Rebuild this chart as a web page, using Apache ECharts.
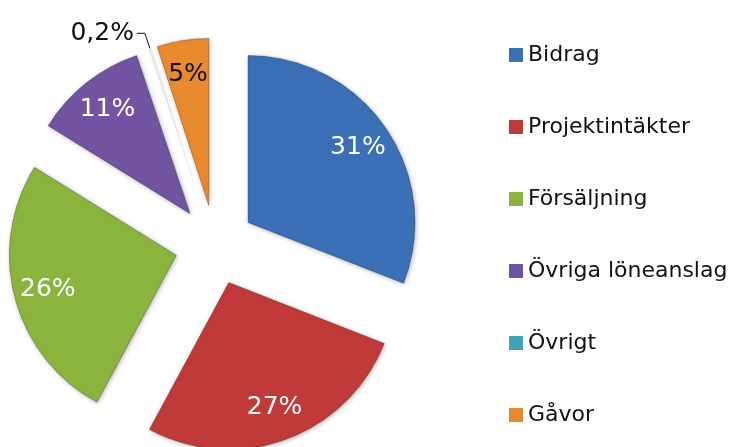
<!DOCTYPE html>
<html><head><meta charset="utf-8">
<script src="https://cdn.jsdelivr.net/npm/echarts@6/dist/echarts.min.js"></script>
<style>html,body{margin:0;padding:0;background:#fff}#c{width:734px;height:447px}</style>
</head><body><div id="c"></div>
<script>
const categories = ['Bidrag','Projektintäkter','Försäljning','Övriga löneanslag','Övrigt','Gåvor'];
const values = [31, 27, 26, 11, 0.2, 5];
const colors = ['#3b6fb6','#c13a3a','#8bb43f','#7254a2','#3fa3b6','#e98a2e'];
const labelColors = ['#fff','#fff','#fff','#fff','#111','#111'];

const fmt = v => String(v).replace('.', ',') + '%';
const FONT = 'DejaVu Sans';
const C = [215, 245];
const OFF = 40;

const chart = echarts.init(document.getElementById('c'), null, {renderer:'canvas'});
chart.setOption({
  animation: false,
  legend: {
    orient: 'vertical', left: 509, top: 44, padding: 0,
    itemWidth: 14, itemHeight: 14, itemGap: 50, icon: 'rect',
    selectedMode: false,
    textStyle: {fontFamily: FONT, fontSize: 22, lineHeight: 22, color: '#111'},
    data: categories.map((n, i) => ({name: n, itemStyle: {color: colors[i], borderWidth: 0, shadowBlur: 0}}))
  },
  series: [
    {
      type: 'pie', center: C, radius: [0, 167], startAngle: 90, clockwise: true,
      selectedMode: 'multiple', selectedOffset: OFF, silent: true,
      emphasis: {disabled: true},
      labelLine: {show: true, length: 16, length2: 8, lineStyle: {color: '#111', width: 1}},
      data: categories.map((n, i) => ({
        name: n, value: values[i], selected: true,
        itemStyle: i === 4
          ? {color: '#e4e4e4', borderWidth: 0, shadowBlur: 3, shadowColor: 'rgba(0,0,0,0.15)'}
          : {color: colors[i], borderColor: 'rgba(0,0,0,0.25)', borderWidth: 1,
             shadowBlur: 5, shadowColor: 'rgba(0,0,0,0.3)', shadowOffsetX: 1, shadowOffsetY: 1},
        label: i === 4 ? {show: true, position: 'outside', formatter: p => fmt(p.value),
          fontFamily: FONT, fontSize: 25, color: '#111', distanceToLabelLine: 3} : {show: false},
        labelLine: {show: i === 4}
      }))
    },
    {
      type: 'pie', center: C, radius: [96, 164], startAngle: 90, clockwise: true,
      selectedMode: 'multiple', selectedOffset: OFF, silent: true,
      emphasis: {disabled: true}, labelLine: {show: false},
      label: {show: true, position: 'inside', fontFamily: FONT, fontSize: 25, formatter: p => fmt(p.value)},
      data: categories.map((n, i) => ({
        name: n, value: values[i], selected: true,
        itemStyle: {color: 'rgba(0,0,0,0)'},
        label: {show: i !== 4, color: labelColors[i]}
      }))
    }
  ]
});
</script></body></html>
